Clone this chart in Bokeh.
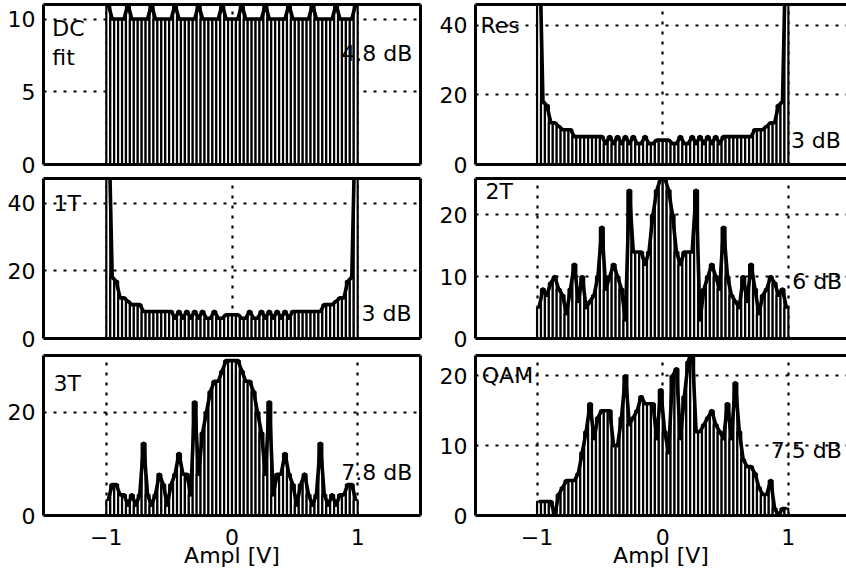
import numpy as np
from bokeh.plotting import figure
from bokeh.layouts import column, row
from bokeh.models import Range1d, FixedTicker, LinearAxis, Label, ColumnDataSource
from bokeh.embed import file_html
from bokeh.resources import INLINE

# ---------------- data (histogram counts, 64 bins over -1..1 V) ----------------
n_bins = 64
ampl = np.linspace(-1 + 1 / n_bins, 1 - 1 / n_bins, n_bins)   # bin centres [V]
bin_w = 2 / n_bins
x_ticks = [-1, 0, 1]
x_label = "Ampl [V]"

dc_fit = [11, 10, 10, 10, 10,
          11, 10, 10, 10, 10, 10,
          11, 10, 10, 10, 10, 10,
          11, 10, 10, 10, 10, 10,
          11, 10, 10, 10, 10, 10,
          11, 10, 10, 10, 10,
          11, 10, 10, 10, 10, 10,
          11, 10, 10, 10, 10, 10,
          11, 10, 10, 10, 10, 10,
          11, 10, 10, 10, 10, 10,
          11, 10, 10, 10, 10,
          11]

res = [70, 18, 17, 12, 12, 11, 10, 10, 10, 8, 8, 8, 8, 8, 8, 8,
       8, 6, 8, 6, 8, 6, 8, 6, 8, 6, 6, 8, 6, 6, 7, 7,
       7, 7, 6, 6, 8, 6, 6, 8, 6, 8, 6, 8, 6, 8, 6, 8,
       8, 8, 8, 8, 8, 8, 8, 10, 10, 10, 11, 12, 12, 17, 18, 70]

one_t = [70, 18, 17, 12, 12, 11, 10, 10, 10, 8, 8, 8, 8, 8, 8, 8,
         8, 6, 8, 6, 8, 6, 8, 6, 8, 6, 6, 8, 6, 6, 7, 7,
         7, 7, 6, 6, 8, 6, 6, 8, 6, 8, 6, 8, 6, 8, 6, 8,
         8, 8, 8, 8, 8, 8, 8, 10, 10, 10, 11, 12, 12, 17, 18, 70]

two_t = [5, 8, 7, 9, 10, 8, 7, 4, 8, 12, 6, 10, 5, 6, 7, 10,
         18, 8, 10, 12, 10, 8, 3, 24, 14, 14, 14, 12, 14, 20, 24, 26,
         26, 24, 20, 14, 12, 14, 14, 14, 24, 3, 8, 10, 12, 10, 8, 18,
         10, 7, 6, 5, 10, 6, 12, 8, 4, 7, 8, 10, 9, 7, 8, 5]

three_t = [3, 6, 6, 4, 4, 2, 4, 2, 4, 14, 4, 2, 4, 8, 6, 2,
           6, 8, 12, 8, 8, 4, 22, 8, 16, 20, 24, 26, 26, 28, 30, 30,
           30, 30, 28, 26, 26, 24, 20, 16, 8, 22, 4, 8, 8, 12, 8, 6,
           2, 6, 8, 4, 2, 4, 14, 4, 2, 4, 2, 4, 4, 6, 6, 3]

qam = [2, 2, 2, 2, 0, 3, 4, 5, 5, 5, 6, 9, 12, 16, 11, 14,
       15, 15, 15, 10, 10, 14, 20, 13, 14, 15, 17, 16, 16, 16, 11, 18,
       12, 9, 20, 21, 11, 17, 22, 24, 12, 12, 13, 14, 15, 13, 12, 11,
       16, 11, 19, 12, 8, 7, 7, 6, 4, 3, 3, 5, 1, 0, 1, 1]

snr_labels = ["4.8 dB", "3 dB", "3 dB", "6 dB", "7.8 dB", "7.5 dB"]

FONT = "DejaVu Sans"
FS = "22px"


def hidden_axis():
    return LinearAxis(ticker=FixedTicker(ticks=[]), major_label_text_font_size="0px",
                      major_tick_in=0, major_tick_out=0, minor_tick_in=0, minor_tick_out=0,
                      major_label_standoff=0, axis_line_width=3, axis_line_color="black")


def panel(vals, y_max, y_ticks, x_rng, width, height, b_left, b_right, b_top, b_bottom,
          bottom_row, left_col, texts):
    p = figure(width=width, height=height, x_range=Range1d(*x_rng), y_range=Range1d(0, y_max),
               output_backend="svg", toolbar_location=None, tools="",
               min_border_left=b_left, min_border_right=b_right,
               min_border_top=b_top, min_border_bottom=b_bottom)
    p.outline_line_color = None
    src = ColumnDataSource(dict(x=ampl, y=vals))
    # white bars with black edges (full bin width), as in the original histogram
    p.vbar(x="x", top="y", bottom=0, width=bin_w, source=src,
           fill_color="white", line_color="black", line_width=2.2)
    p.line(x="x", y="y", source=src, line_width=3.6, line_color="black", line_join="round")

    for g, t in ((p.xgrid, x_ticks), (p.ygrid, y_ticks)):
        g.ticker = FixedTicker(ticks=t)
        g.grid_line_color = "black"
        g.grid_line_width = 2.2
        g.grid_line_dash = "3 7"

    ya = p.yaxis[0]
    ya.ticker = FixedTicker(ticks=y_ticks)
    ya.major_label_text_font = FONT
    ya.major_label_text_font_size = FS
    ya.major_label_text_color = "black"
    ya.major_tick_in = 0
    ya.major_tick_out = 0
    ya.minor_tick_in = 0
    ya.minor_tick_out = 0
    ya.major_label_standoff = 8
    ya.axis_line_width = 3
    ya.axis_line_color = "black"

    xa = p.xaxis[0]
    xa.major_tick_in = 0
    xa.major_tick_out = 0
    xa.minor_tick_in = 0
    xa.minor_tick_out = 0
    xa.axis_line_width = 3
    xa.axis_line_color = "black"
    if bottom_row:
        xa.ticker = FixedTicker(ticks=x_ticks)
        xa.major_label_text_font = FONT
        xa.major_label_text_font_size = FS
        xa.major_label_text_color = "black"
        xa.major_label_standoff = 13
        xa.axis_label = x_label
        xa.axis_label_text_font = FONT
        xa.axis_label_text_font_size = FS
        xa.axis_label_text_color = "black"
        xa.axis_label_text_font_style = "normal"
        xa.axis_label_standoff = -5
    else:
        xa.ticker = FixedTicker(ticks=[])
        xa.major_label_text_font_size = "0px"
        xa.major_label_standoff = 0

    p.add_layout(hidden_axis(), "above")
    if left_col:
        p.add_layout(hidden_axis(), "right")

    for (tx, ty, tt) in texts:
        p.add_layout(Label(x=tx, y=ty, text=tt, text_font=FONT, text_font_size=FS,
                           text_baseline="middle", text_align="left", text_color="black"))
    return p


XL = (-1.5, 1.5)
XR = (-1.49, -1.49 + 371 / 125.65)

W_L, W_R = 422, 424
H1, H2, H3 = 177, 176, 224
p1 = panel(dc_fit, 11.0, [0, 5, 10], XL, W_L, H1, 43, 2, 4, 13, False, True,
           [(-1.43, 9.33, "DC"), (-1.43, 7.33, "fit"), (0.87, 7.6, snr_labels[0])])
p2 = panel(res, 46.0, [0, 20, 40], XR, W_R, H1, 53, 0, 4, 13, False, False,
           [(-1.45, 40.0, "Res"), (1.02, 6.9, snr_labels[1])])
p3 = panel(one_t, 47.3, [0, 20, 40], XL, W_L, H2, 43, 2, 1, 15, False, True,
           [(-1.42, 39.8, "1T"), (1.03, 7.4, snr_labels[2])])
p4 = panel(two_t, 25.9, [0, 10, 20], XR, W_R, H2, 53, 0, 1, 15, False, False,
           [(-1.41, 23.8, "2T"), (1.03, 9.2, snr_labels[3])])
p5 = panel(three_t, 31.0, [0, 20], XL, W_L, H3, 43, 2, 2, 62, True, True,
           [(-1.42, 25.6, "3T"), (0.87, 8.3, snr_labels[4])])
p6 = panel(qam, 22.9, [0, 10, 20], XR, W_R, H3, 53, 0, 2, 62, True, False,
           [(-1.44, 20.0, "QAM"), (0.86, 9.3, snr_labels[5])])

layout = column(row(p1, p2), row(p3, p4), row(p5, p6))
open("out.html", "w").write(file_html(layout, INLINE))
